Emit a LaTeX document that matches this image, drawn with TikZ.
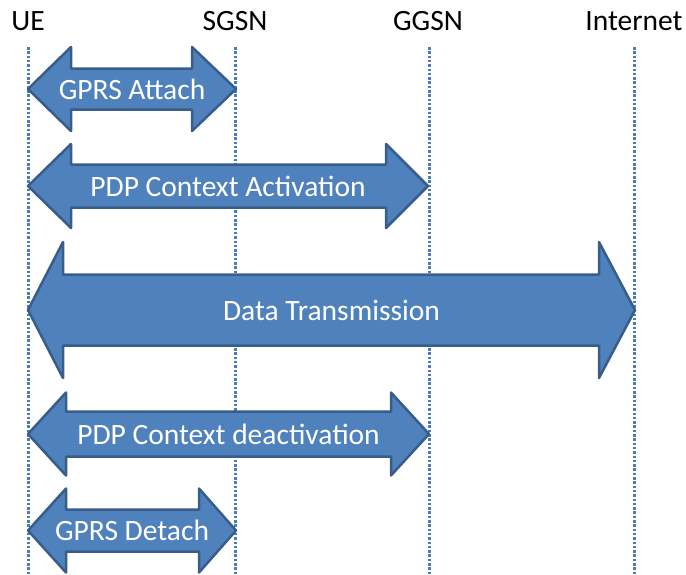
\documentclass[tikz,border=0pt]{standalone}
\usepackage{fontspec}
\setmainfont{Carlito}
\usetikzlibrary{positioning}

\definecolor{boxblue}{HTML}{4F81BD}
\definecolor{edgeblue}{HTML}{385D8A}
\definecolor{lineblue}{HTML}{4A7EBB}

% \signal{name}{x left}{x right}{y}{shaft half}{head half}{head left}{head right}{text}
\newcommand{\signal}[9]{%
	\draw[msgarrow] (#2,#4) -- ({#2+#7},{#4-#6}) -- ({#2+#7},{#4-#5})
		-- ({#3-#8},{#4-#5}) -- ({#3-#8},{#4-#6}) -- (#3,#4)
		-- ({#3-#8},{#4+#6}) -- ({#3-#8},{#4+#5}) -- ({#2+#7},{#4+#5})
		-- ({#2+#7},{#4+#6}) -- cycle;
	\node[msgtext] (#1) at ({(#2+#3)/2},#4) {#9};
}

\begin{document}
\begin{tikzpicture}[x=1pt,y=-1pt,
		entity/.style={font=\fontsize{29.5}{31}\selectfont, inner sep=0pt},
		lifeline/.style={lineblue, line width=3pt, dash pattern=on 2.5pt off 1.8pt},
		msgarrow/.style={fill=boxblue, draw=edgeblue, line width=2.5pt, line join=round},
		msgtext/.style={white, font=\fontsize{29.5}{31}\selectfont, inner sep=0pt}]
	\useasboundingbox (0,0) rectangle (686,574);
	
	% network elements
	\node[entity] (ue) at (28,21) {UE};
	\node[entity] (sgsn) at (235,21) {SGSN};
	\node[entity] (ggsn) at (428,21) {GGSN};
	\node[entity] (inet) at (634,21) {Internet};
	
	% lifelines
	\foreach \n/\x in {ue/28, sgsn/235, ggsn/429, inet/634}
		\draw[lifeline] (\x,47) coordinate (\n-top) -- (\x,574) coordinate (\n-bot);
	
	% procedures
	\signal{attach}{28}{236}{89}{20.5}{42}{43}{44}{GPRS Attach}
	\signal{act}{28}{428}{186}{21.5}{42}{43}{42}{PDP Context Activation}
	\signal{data}{28}{635}{310}{35.5}{68}{35}{36}{Data Transmission}
	\signal{deact}{28}{429}{434}{22.5}{41.5}{38}{38}{PDP Context deactivation}
	\signal{detach}{28}{236}{530.5}{21}{42}{38}{37}{GPRS Detach}
\end{tikzpicture}
\end{document}
